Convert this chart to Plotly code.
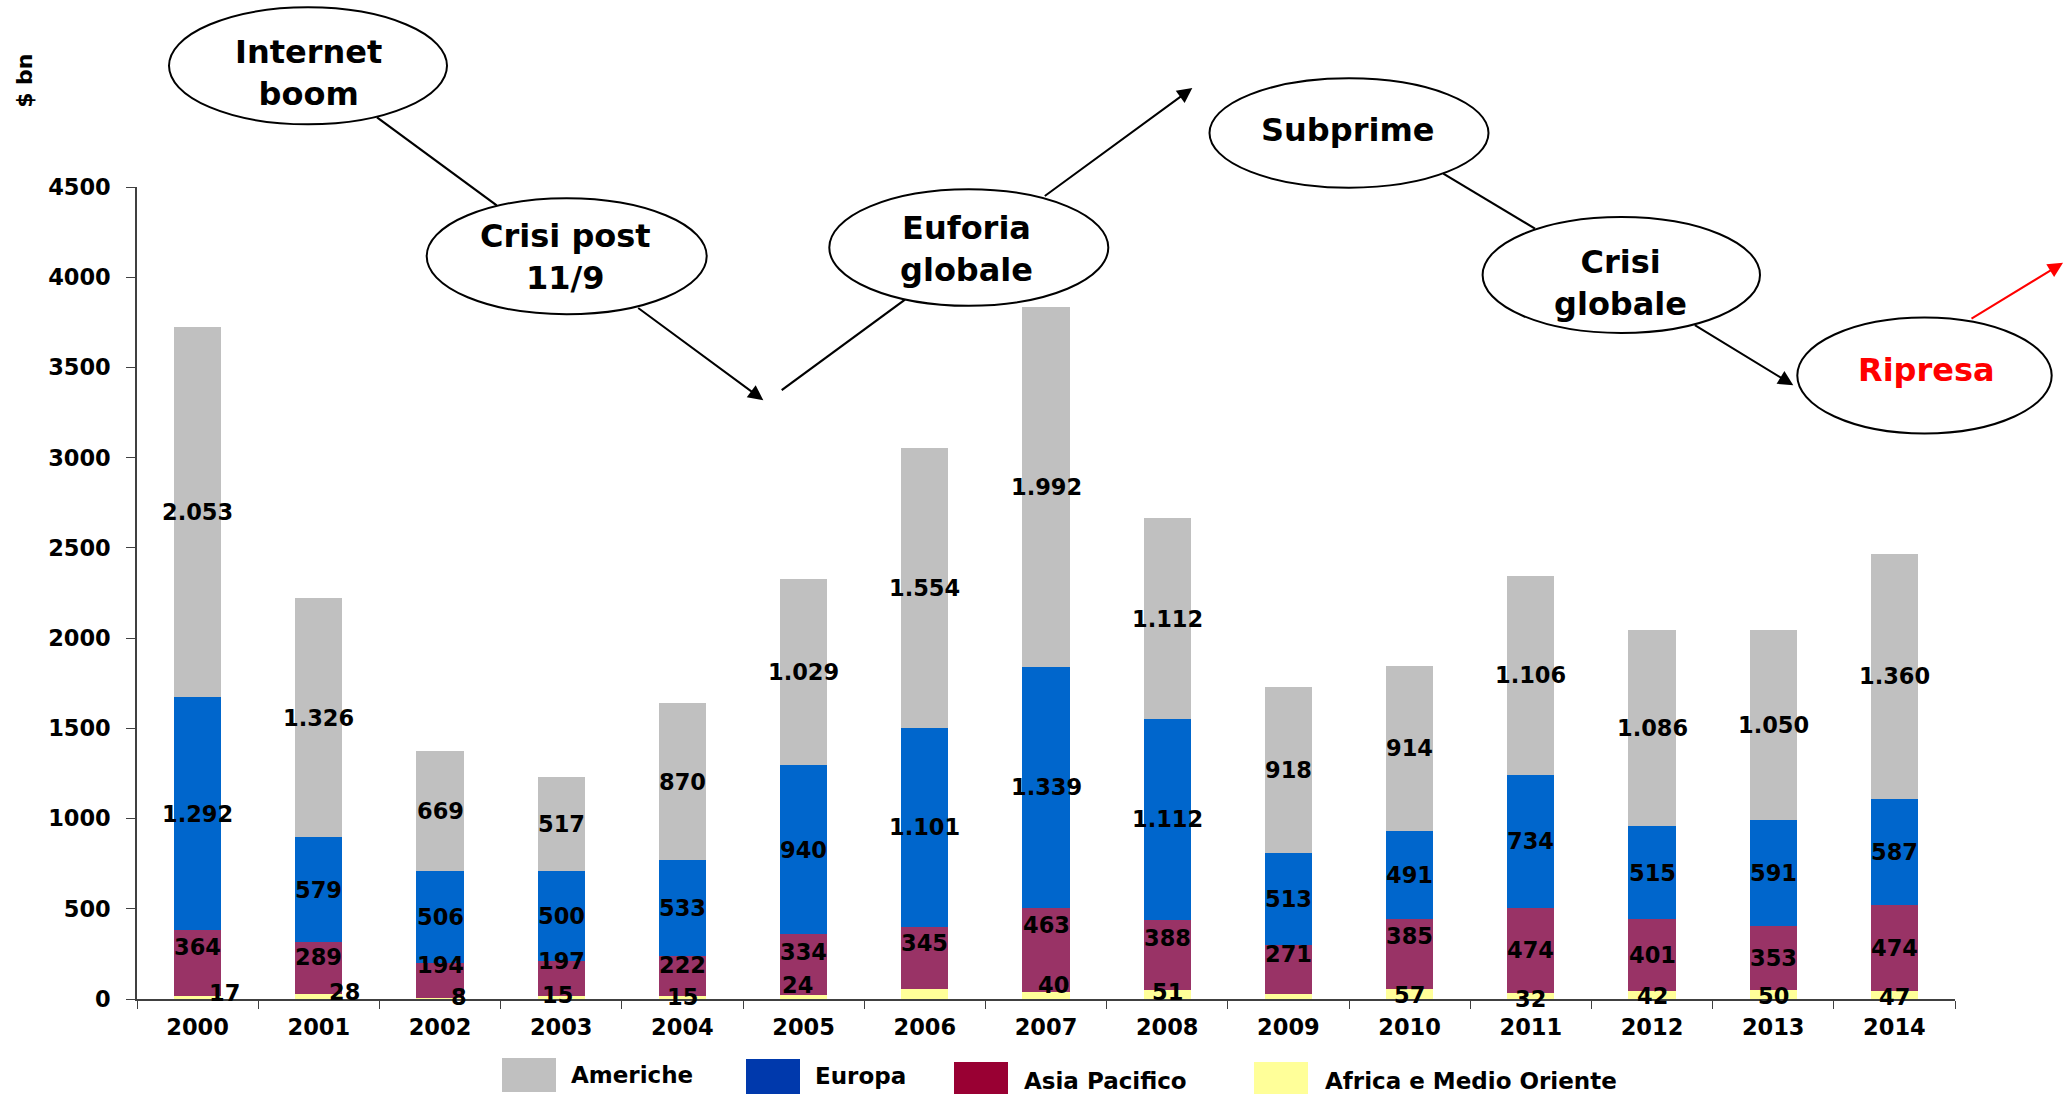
import plotly.graph_objects as go

# ---- data ($ bn) ----
years = ["2000", "2001", "2002", "2003", "2004", "2005", "2006", "2007",
         "2008", "2009", "2010", "2011", "2012", "2013", "2014"]
africa = [17, 28, 8, 15, 15, 24, 55, 40, 51, 27, 57, 32, 42, 50, 47]
asia = [364, 289, 194, 197, 222, 334, 345, 463, 388, 271, 385, 474, 401, 353, 474]
europa = [1292, 579, 506, 500, 533, 940, 1101, 1339, 1112, 513, 491, 734, 515, 591, 587]
americhe = [2053, 1326, 669, 517, 870, 1029, 1554, 1992, 1112, 918, 914, 1106, 1086, 1050, 1360]

# where the small-segment labels sit (value units) and their sideways nudges (px)
asia_label_y = [288, 235, 190, 210, 186, 263, 308, 410, 338, 249, 351, 269, 242, 226, 284]
africa_label_y = [35, 40, 12, 20, 10, 75, -8, 80, 40, -8, 20, 2, 15, 15, 10]
africa_label_dx = [27, 26, 19, -4, 0, -6, 0, 7, 0, 0, 0, 0, 0, 0, 0]

# ---- styling ----
BAR_GREY = "#C0C0C0"
BAR_BLUE = "#0066CC"
BAR_MAROON = "#993366"
BAR_YELLOW = "#FFFF99"
FONT = "DejaVu Sans"

W, H = 2066, 1094
L, R, T, B = 137, 111, 186.7, 95
PW = W - L - R
PH = H - T - B


def fx(p):
    return (p - L) / PW


def fy(p):
    return (H - B - p) / PH


def it_num(v):
    return f"{v:,}".replace(",", ".")


fig = go.Figure()
for name, vals, col in [("Africa e Medio Oriente", africa, BAR_YELLOW),
                        ("Asia Pacifico", asia, BAR_MAROON),
                        ("Europa", europa, BAR_BLUE),
                        ("Americhe", americhe, BAR_GREY)]:
    fig.add_trace(go.Bar(x=years, y=vals, name=name, marker=dict(color=col, line=dict(width=0)),
                         showlegend=False, hoverinfo="x+y+name"))

annotations = []
lab_font = dict(family=FONT, size=22.5, color="black", weight="bold")
for i, yr in enumerate(years):
    base_eu = africa[i] + asia[i]
    base_am = base_eu + europa[i]
    annotations.append(dict(x=i, y=base_am + americhe[i] / 2, text=it_num(americhe[i]),
                            xref="x", yref="y", showarrow=False, font=lab_font))
    annotations.append(dict(x=i, y=base_eu + europa[i] / 2, text=it_num(europa[i]),
                            xref="x", yref="y", showarrow=False, font=lab_font))
    annotations.append(dict(x=i, y=asia_label_y[i], text=it_num(asia[i]),
                            xref="x", yref="y", showarrow=False, font=lab_font))
    annotations.append(dict(x=i, y=africa_label_y[i], text=it_num(africa[i]),
                            xref="x", yref="y", showarrow=False, font=lab_font,
                            xshift=africa_label_dx[i]))

# y-axis unit
annotations.append(dict(x=fx(10), y=fy(52), xref="paper", yref="paper", text="$ bn",
                        textangle=-90, showarrow=False,
                        font=dict(family=FONT, size=22, color="black", weight="bold")))

# ---- story bubbles ----
bubble_font = dict(family=FONT, size=32, color="black", weight="bold")
bubbles = [  # cx, cy, rx, ry (px)
    (308, 65.5, 139, 58.5),
    (566.7, 256, 140, 58),
    (968.8, 247.3, 139.5, 58.3),
    (1349, 132.7, 139.5, 54.7),
    (1621.3, 274.7, 138.7, 58),
    (1924.5, 375.3, 127.2, 58),
]
bubble_texts = [  # text, cx, cy, colour
    ("Internet<br>boom", 308, 72.5, "black"),
    ("Crisi post<br>11/9", 565, 256.7, "black"),
    ("Euforia<br>globale", 966.7, 248.5, "black"),
    ("Subprime", 1347, 130, "black"),
    ("Crisi<br>globale", 1620, 282.5, "black"),
    ("Ripresa", 1926.7, 370, "#FF0000"),
]

shapes = []
# plain connectors
for (x0, y0, x1, y1) in [(377, 117, 496.7, 205), (781.7, 390, 905, 299.3),
                         (1443.3, 173.3, 1535, 228.3)]:
    shapes.append(dict(type="line", xref="paper", yref="paper",
                       x0=fx(x0), y0=fy(y0), x1=fx(x1), y1=fy(y1),
                       line=dict(color="black", width=2.2)))
for cx, cy, rx, ry in bubbles:
    shapes.append(dict(type="circle", xref="paper", yref="paper",
                       x0=fx(cx - rx), x1=fx(cx + rx), y0=fy(cy + ry), y1=fy(cy - ry),
                       fillcolor="white", line=dict(color="black", width=2)))
for txt, cx, cy, col in bubble_texts:
    f = dict(bubble_font)
    f["color"] = col
    annotations.append(dict(x=fx(cx), y=fy(cy), xref="paper", yref="paper", text=txt,
                            xanchor="center", yanchor="middle",
                            showarrow=False, font=f, align="center"))

# arrows: tail -> tip (px)
for (x0, y0, x1, y1, col) in [(636.7, 306.7, 763.3, 400, "black"),
                              (1043.3, 196.7, 1192.3, 87.7, "black"),
                              (1693.3, 324, 1793.3, 385, "black"),
                              (1970, 319.3, 2063, 262.5, "#FF0000")]:
    annotations.append(dict(x=fx(x1), y=fy(y1), xref="paper", yref="paper", text="",
                            showarrow=True, ax=x0 - x1, ay=y0 - y1, axref="pixel", ayref="pixel",
                            arrowhead=2, arrowsize=1.5, arrowwidth=2, arrowcolor=col))

# ---- legend ----
leg_font = dict(family=FONT, size=23, color="black", weight="bold")
legend_items = [  # label, colour, swatch x0, x1, y0, y1, text x, text y
    ("Americhe", "#C0C0C0", 502, 556, 1058, 1092, 569, 1075),
    ("Europa", "#0039AC", 746, 800, 1059, 1094, 813, 1076),
    ("Asia Pacifico", "#990033", 954, 1008, 1062, 1094, 1022, 1081),
    ("Africa e Medio Oriente", "#FFFF99", 1254, 1308, 1062, 1094, 1323, 1081),
]
for lab, col, sx0, sx1, sy0, sy1, tx, ty in legend_items:
    shapes.append(dict(type="rect", xref="paper", yref="paper",
                       x0=fx(sx0), x1=fx(sx1), y0=fy(sy1), y1=fy(sy0),
                       fillcolor=col, line=dict(width=0)))
    annotations.append(dict(x=fx(tx), y=fy(ty), xref="paper", yref="paper", text=lab,
                            xanchor="left", yanchor="middle", showarrow=False, font=leg_font))

tick_font = dict(family=FONT, size=22.5, color="black", weight="bold")
fig.update_layout(
    width=W, height=H,
    margin=dict(l=L, r=R, t=T, b=B, autoexpand=False),
    paper_bgcolor="white", plot_bgcolor="white",
    barmode="stack", bargap=0.612,
    showlegend=False,
    annotations=annotations,
    shapes=shapes,
    xaxis=dict(type="category", range=[-0.5, len(years) - 0.5], autorange=False,
               showline=True, linecolor="#404040", linewidth=1.5,
               ticks="outside", ticklen=8, tickcolor="#404040", tickson="boundaries",
               tickfont=tick_font, tickangle=0, showgrid=False, zeroline=False,
               ticklabelstandoff=7),
    yaxis=dict(range=[0, 4500], autorange=False, dtick=500, showline=True,
               linecolor="#404040", linewidth=1.5,
               ticks="outside", ticklen=9, tickcolor="#404040", tickfont=tick_font,
               showgrid=False, zeroline=False, ticklabelstandoff=11),
)

fig.write_html("out.html")
